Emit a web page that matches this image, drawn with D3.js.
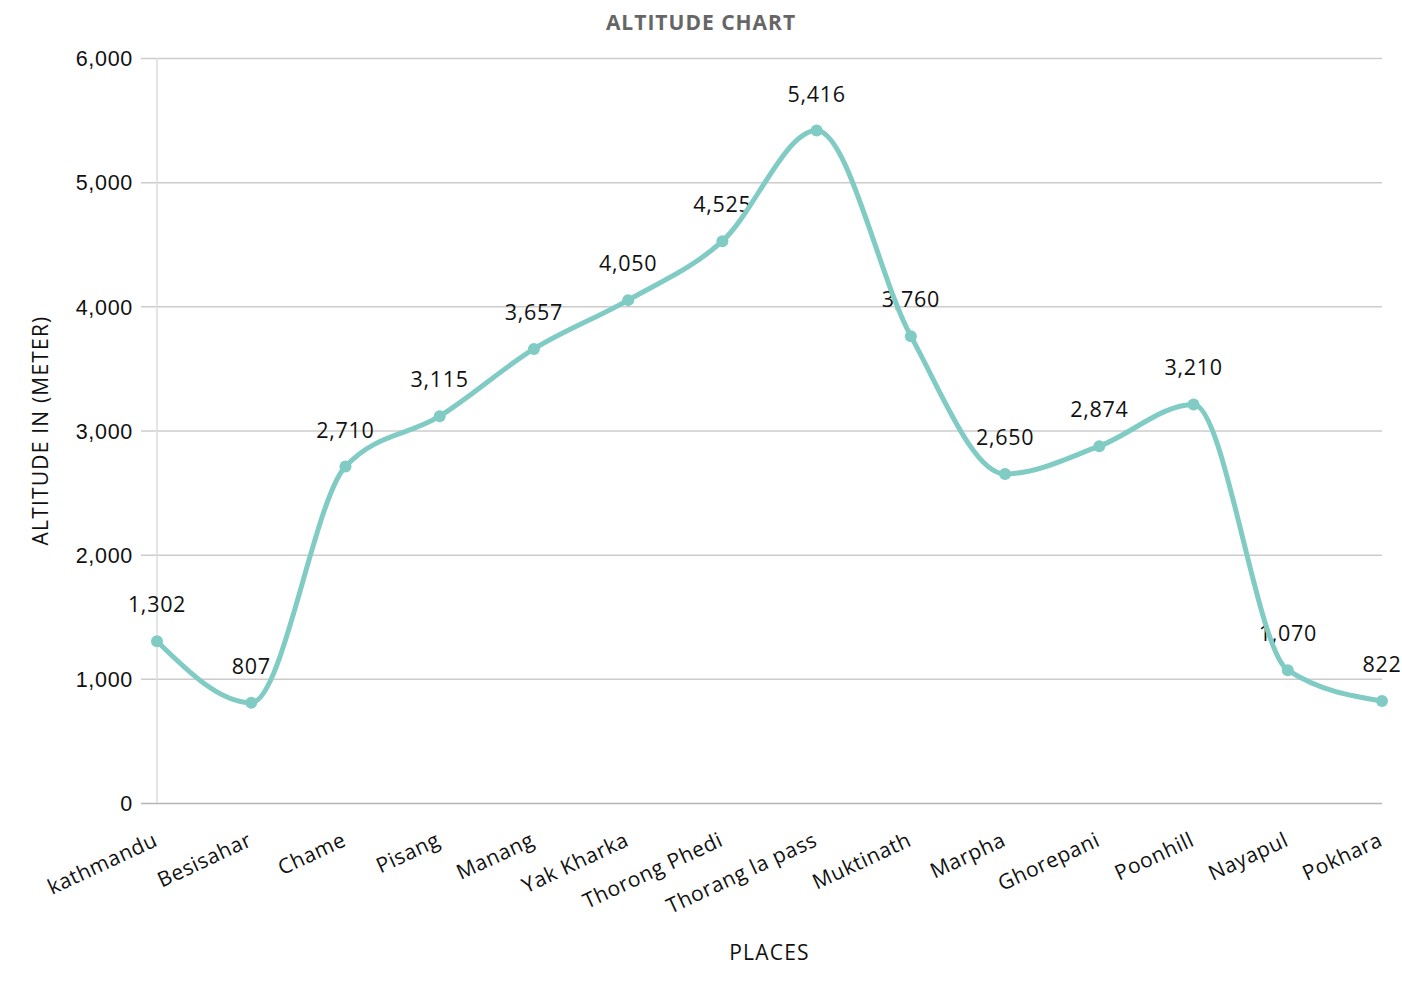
<!DOCTYPE html>
<html>
<head>
<meta charset="utf-8">
<script src="https://cdn.jsdelivr.net/npm/d3@7"></script>
<style>
  body { margin: 0; background: #fff; }
  svg { display: block; font-family: "Open Sans", "Noto Sans", sans-serif; }
</style>
</head>
<body>
<div id="chart"></div>
<script>
const places = ['kathmandu', 'Besisahar', 'Chame', 'Pisang', 'Manang', 'Yak Kharka', 'Thorong Phedi',
  'Thorang la pass', 'Muktinath', 'Marpha', 'Ghorepani', 'Poonhill', 'Nayapul', 'Pokhara'];
const altitudes = [1302, 807, 2710, 3115, 3657, 4050, 4525, 5416, 3760, 2650, 2874, 3210, 1070, 822];
const yTicks = [0, 1000, 2000, 3000, 4000, 5000, 6000];

const LINE = '#80cbc4';
const width = 1402, height = 996;
const margin = { top: 58, right: 20, bottom: 193, left: 157 };

const svg = d3.select('#chart').append('svg')
  .attr('width', width).attr('height', height);

const x = d3.scalePoint().domain(places).range([margin.left, width - margin.right]).padding(0);
const y = d3.scaleLinear().domain([0, 6000]).range([height - margin.bottom, margin.top]);
const fmt = d3.format(',');

// gridlines + y tick labels
const yAxis = svg.append('g')
  .attr('transform', `translate(${margin.left},0)`)
  .call(d3.axisLeft(y).tickValues(yTicks).tickFormat(fmt)
    .tickSize(-(width - margin.right - margin.left)).tickPadding(24));
yAxis.select('.domain').remove();
yAxis.selectAll('.tick line').attr('stroke', '#cccccc').attr('stroke-width', 1.5).attr('x1', -16);
yAxis.selectAll('.tick text').attr('font-size', 21.5).attr('letter-spacing', 0.7)
  .attr('fill', '#111').attr('dy', '0.36em');
yAxis.selectAll('.tick').filter(d => d === 0).select('line').attr('stroke', '#b5b5b5');

// left axis line
svg.append('line')
  .attr('x1', margin.left).attr('x2', margin.left)
  .attr('y1', y(6000)).attr('y2', y(0))
  .attr('stroke', '#dddddd').attr('stroke-width', 1.5);

// x tick labels
const xAxis = svg.append('g').attr('transform', `translate(0,${y(0)})`);
xAxis.selectAll('text').data(places).join('text')
  .attr('transform', d => `translate(${x(d) + 2},${42}) rotate(-25)`)
  .attr('text-anchor', 'end')
  .attr('font-size', 21).attr('letter-spacing', 0.6).attr('fill', '#111')
  .text(d => d);

// value labels (under the line)
const data = places.map((p, i) => ({ place: p, value: altitudes[i] }));
svg.append('g').selectAll('text').data(data).join('text')
  .attr('x', d => x(d.place))
  .attr('y', d => y(d.value) - 29)
  .attr('text-anchor', 'middle')
  .attr('font-size', 21.5).attr('letter-spacing', 0.7).attr('fill', '#111')
  .text(d => fmt(d.value));

// line
const line = d3.line().x(d => x(d.place)).y(d => y(d.value)).curve(d3.curveMonotoneX);
svg.append('path').datum(data)
  .attr('d', line).attr('fill', 'none')
  .attr('stroke', LINE).attr('stroke-width', 5)
  .attr('stroke-linejoin', 'round').attr('stroke-linecap', 'round');

svg.append('g').selectAll('circle').data(data).join('circle')
  .attr('cx', d => x(d.place)).attr('cy', d => y(d.value))
  .attr('r', 6).attr('fill', LINE);

// titles
svg.append('text')
  .attr('x', width / 2).attr('y', 30)
  .attr('text-anchor', 'middle')
  .attr('font-size', 21).attr('font-weight', 700).attr('letter-spacing', 1).attr('fill', '#666')
  .text('ALTITUDE CHART');

svg.append('text')
  .attr('transform', `translate(48,${(y(0) + y(6000)) / 2}) rotate(-90)`)
  .attr('text-anchor', 'middle')
  .attr('font-size', 21).attr('letter-spacing', 1.2).attr('fill', '#111')
  .text('ALTITUDE IN (METER)');

svg.append('text')
  .attr('x', (margin.left + width - margin.right) / 2).attr('y', 960)
  .attr('text-anchor', 'middle')
  .attr('font-size', 21).attr('letter-spacing', 1.2).attr('fill', '#111')
  .text('PLACES');
</script>
</body>
</html>
